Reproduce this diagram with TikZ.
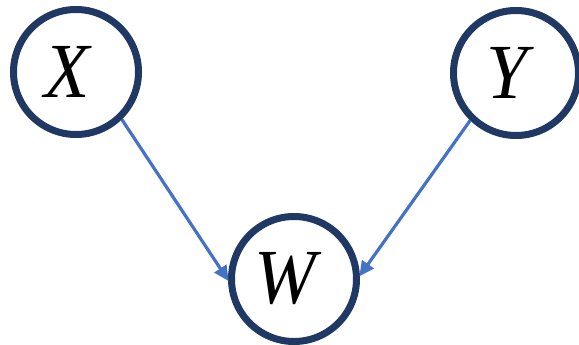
\documentclass[tikz,border=0pt]{standalone}
\usepackage{fontspec}
\setmainfont{Liberation Serif}
\usetikzlibrary{arrows.meta}
\definecolor{navy}{RGB}{31,56,100}
\definecolor{arrowblue}{RGB}{68,114,196}
\newcommand{\varlabel}[1]{\hspace*{-18pt}\scalebox{0.95}[1]{#1}}
\tikzset{
  var/.style={circle, draw=navy, line width=7pt, fill=white, minimum size=125pt, inner sep=0pt,
    font=\fontsize{78}{78}\selectfont\itshape},
  edge/.style={draw=arrowblue, line width=3.2pt, -{Triangle[length=15pt,width=14pt]}, shorten >=-1pt}
}
\begin{document}
\begin{tikzpicture}[x=1pt,y=-1pt]
\useasboundingbox (0,0) rectangle (579,345);
\node[var] (X) at (76,72) {\varlabel{X}};
\node[var] (Y) at (516,73) {\varlabel{Y}};
\node[var] (W) at (294,279) {\varlabel{W}};
\draw[edge] (X.-46) -- (W.181);
\draw[edge] (Y.-134) -- (W.3);
\end{tikzpicture}
\end{document}
